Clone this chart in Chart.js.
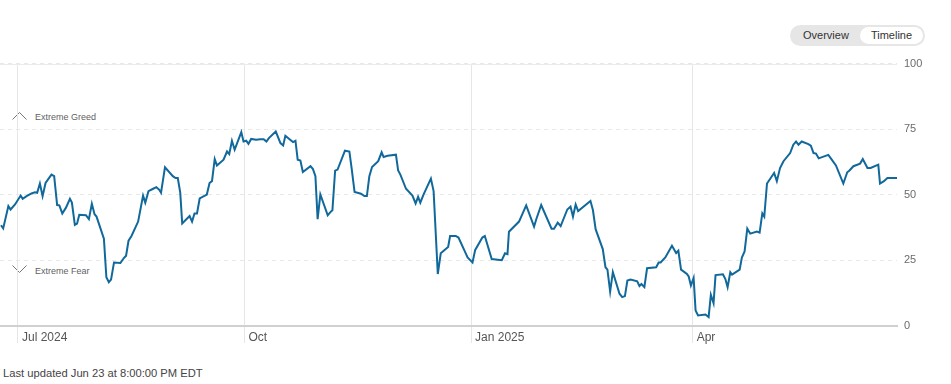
<!DOCTYPE html>
<html lang="en">
<head>
    <meta charset="UTF-8">
    <title>Fear &amp; Greed Timeline</title>
    <script src="https://cdn.jsdelivr.net/npm/chart.js"></script>
    <style>
        body {
            margin: 0;
            font-family: Arial, "Liberation Sans", sans-serif;
            background: #fff;
            width: 951px;
            height: 384px;
            position: relative;
            overflow: hidden;
        }
        .toggle {
            position: absolute;
            left: 790px;
            top: 25px;
            width: 135px;
            height: 21px;
            border-radius: 11px;
            background: #e6e6e6;
            font-size: 11px;
            color: #333;
        }
        .toggle span {
            position: absolute;
            top: 0;
            line-height: 21px;
        }
        .toggle .on {
            left: 70px;
            top: 2px;
            width: 63px;
            height: 17px;
            line-height: 17px;
            text-align: center;
            background: #fff;
            border-radius: 9px;
        }
        .zone {
            position: absolute;
            left: 12px;
            font-size: 9px;
            color: #5f5f5f;
        }
        .zone svg {
            position: absolute;
            left: 0;
        }
        .zone span {
            position: absolute;
            left: 23px;
            white-space: nowrap;
        }
        .chart-box {
            position: absolute;
            left: 0;
            top: 50px;
            width: 951px;
            height: 306px;
        }
        .footer {
            position: absolute;
            left: 3px;
            top: 367px;
            font-size: 11.2px;
            color: #444;
        }
    </style>
</head>
<body>
    <div class="toggle">
        <span style="left:13px">Overview</span>
        <span class="on">Timeline</span>
    </div>

    <div class="zone" style="top:111px">
        <svg width="15" height="10"><polyline points="0.5,8.5 7.5,1.5 14.5,8.5" fill="none" stroke="#777" stroke-width="1"/></svg>
        <span style="top:1px">Extreme Greed</span>
    </div>
    <div class="zone" style="top:264px">
        <svg width="15" height="10"><polyline points="0.5,1.5 7.5,8.5 14.5,1.5" fill="none" stroke="#777" stroke-width="1"/></svg>
        <span style="top:2px">Extreme Fear</span>
    </div>

    <div class="chart-box">
        <canvas id="fgChart"></canvas>
    </div>

    <div class="footer">Last updated Jun 23 at 8:00:00 PM EDT</div>

    <script>
        // days counted from Jul 1, 2024
        const days = [
            -6.9, -6.0, -3.9, -3.0, -1.2, 1.1, 1.9, 3.5, 5.5, 6.9,
            7.8, 8.9, 10.0, 11.2, 13.6, 14.7, 15.9, 16.8, 18.0, 19.5,
            21.1, 21.9, 23.1, 24.0, 24.9, 27.6, 28.8, 30.0, 31.1, 31.9,
            34.9, 35.9, 36.9, 37.8, 39.0, 41.6, 43.0, 43.9, 44.9, 46.1,
            48.8, 50.8, 51.7, 53.0, 54.9, 56.2, 57.3, 58.1, 59.7, 62.9,
            64.0, 64.9, 65.9, 66.7, 69.7, 70.7, 71.7, 72.7, 73.8, 76.7,
            77.8, 78.8, 79.9, 80.8, 83.5, 84.9, 85.8, 86.9, 88.0, 90.7,
            91.6, 92.7, 93.6, 94.7, 96.7, 98.5, 99.8, 100.9, 101.9, 104.7,
            106.6, 107.7, 108.6, 110.9, 111.7, 112.7, 113.6, 114.7, 115.7, 118.8,
            119.8, 120.8, 121.7, 122.8, 125.8, 126.9, 127.7, 128.8, 129.8, 132.8,
            134.6, 135.5, 136.7, 139.3, 140.7, 141.7, 142.7, 143.8, 146.3, 147.7,
            148.5, 150.1, 153.5, 154.4, 155.3, 157.6, 160.2, 161.5, 162.5, 163.4,
            164.7, 167.7, 168.8, 170.5, 171.7, 174.7, 175.5, 177.8, 178.9, 181.2,
            182.6, 184.6, 185.7, 188.6, 189.6, 192.4, 196.5, 197.8, 198.8, 199.4,
            203.5, 206.4, 209.6, 210.5, 212.5, 216.7, 217.7, 219.2, 220.4, 223.1,
            224.4, 225.4, 226.5, 227.5, 232.5, 233.5, 234.6, 237.5, 238.6, 239.4,
            240.5, 241.6, 244.3, 245.4, 246.5, 247.5, 248.8, 251.5, 252.4, 253.2,
            254.4, 255.5, 259.2, 260.2, 261.0, 262.9, 265.6, 267.3, 268.2, 269.3,
            271.7, 272.4, 273.3, 274.4, 275.2, 276.2, 279.2, 280.5, 281.4, 282.5,
            283.3, 286.3, 287.3, 288.2, 289.3, 290.0, 293.1, 294.0, 295.1, 296.2,
            297.4, 300.1, 301.2, 302.3, 303.1, 304.2, 307.1, 308.2, 309.5, 310.9,
            313.6, 314.9, 316.0, 317.0, 318.3, 321.0, 322.0, 323.1, 324.1, 325.2,
            329.1, 330.5, 332.2, 335.2, 336.8, 337.6, 339.3, 342.0, 343.1, 345.0,
            346.3, 349.4, 350.1, 351.7, 353.1, 357.0
        ];
        const scores = [
            38.4, 37.2, 45.7, 44.4, 46.3, 49.7, 48.5, 49.5, 50.5, 51.0,
            50.8, 54.3, 49.5, 54.5, 57.7, 57.1, 46.1, 46.0, 42.9, 45.1,
            48.5, 47.0, 38.5, 39.0, 42.4, 42.2, 40.7, 46.6, 42.6, 41.7,
            33.3, 18.6, 16.7, 17.7, 24.2, 24.0, 25.9, 26.8, 32.5, 34.3,
            39.8, 49.7, 47.0, 51.4, 52.3, 52.9, 52.0, 50.8, 60.5, 57.1,
            56.4, 56.4, 50.8, 39.1, 41.9, 39.8, 42.9, 42.9, 48.6, 50.1,
            54.5, 55.2, 63.6, 61.2, 63.4, 66.5, 65.5, 70.6, 67.2, 73.9,
            70.3, 70.6, 69.4, 71.3, 71.0, 71.2, 71.2, 70.3, 71.6, 74.1,
            69.7, 68.8, 72.5, 70.7, 70.1, 70.6, 63.4, 63.1, 58.7, 60.9,
            59.8, 57.1, 40.7, 50.1, 42.2, 43.4, 44.1, 59.2, 59.6, 66.8,
            66.5, 60.2, 51.1, 50.4, 49.5, 49.5, 57.1, 60.6, 62.8, 66.2,
            64.4, 64.9, 65.3, 59.3, 57.7, 52.3, 49.7, 46.7, 49.2, 47.0,
            50.1, 56.2, 51.4, 19.8, 27.7, 30.1, 34.3, 34.3, 33.7, 29.0,
            26.1, 24.2, 29.0, 33.7, 34.3, 25.5, 25.1, 27.7, 27.4, 35.9,
            39.8, 46.0, 37.9, 40.7, 46.1, 37.1, 37.1, 39.4, 38.1, 44.4,
            45.5, 41.7, 46.3, 43.8, 47.6, 44.2, 36.9, 29.3, 22.4, 21.5,
            13.1, 20.5, 12.3, 11.0, 11.4, 17.3, 17.7, 17.0, 15.2, 16.0,
            14.8, 22.0, 22.4, 24.2, 24.2, 26.1, 30.6, 27.8, 28.7, 21.5,
            19.8, 18.9, 15.4, 18.3, 5.9, 4.0, 4.4, 3.4, 11.9, 8.7,
            19.4, 19.7, 17.9, 14.8, 20.5, 19.6, 21.5, 26.1, 28.4, 37.1,
            35.2, 36.0, 35.6, 42.9, 41.7, 54.3, 58.3, 55.2, 60.2, 62.8,
            65.9, 69.1, 70.3, 69.1, 70.3, 69.3, 68.7, 65.9, 65.7, 63.9,
            65.2, 63.4, 61.2, 54.3, 58.6, 59.2, 60.9, 61.9, 63.6, 60.2,
            60.2, 61.5, 54.3, 55.2, 56.4, 56.4
        ];

        const tickDays = [0, 92, 184, 274];
        const tickLabels = ["Jul 2024", "Oct", "Jan 2025", "Apr"];
        const yTicks = [0, 25, 50, 75, 100];

        const points = days.map((d, i) => ({ x: d, y: scores[i] }));

        // solid line at the top (100) instead of the dashed grid
        const topLine = {
            id: "topLine",
            beforeDatasetsDraw(chart) {
                const { ctx, chartArea, scales } = chart;
                const y = Math.round(scales.y.getPixelForValue(100)) + 0.5;
                ctx.save();
                ctx.strokeStyle = "#ebebeb";
                ctx.lineWidth = 1;
                ctx.beginPath();
                ctx.moveTo(chartArea.left, y);
                ctx.lineTo(chartArea.right, y);
                ctx.stroke();
                ctx.restore();
            }
        };

        new Chart(document.getElementById("fgChart"), {
            type: "line",
            data: {
                datasets: [{
                    data: points,
                    borderColor: "#10689b",
                    borderWidth: 2,
                    pointRadius: 0,
                    tension: 0,
                    fill: false
                }]
            },
            options: {
                responsive: true,
                maintainAspectRatio: false,
                animation: false,
                layout: { padding: { top: 8, left: 0, right: 0, bottom: 0 } },
                plugins: {
                    legend: { display: false },
                    tooltip: { enabled: false }
                },
                scales: {
                    x: {
                        type: "linear",
                        min: -7.3,
                        max: 357,
                        afterFit: (scale) => { scale.height = 30; },
                        afterBuildTicks: (scale) => {
                            scale.ticks = tickDays.map(v => ({ value: v }));
                        },
                        grid: {
                            color: "#e6e6e6",
                            lineWidth: 1,
                            drawTicks: true,
                            tickLength: 17,
                            tickColor: "#e6e6e6"
                        },
                        border: { display: true, color: "#d0d0d0", width: 2 },
                        ticks: {
                            align: "start",
                            labelOffset: 4,
                            padding: -13,
                            maxRotation: 0,
                            autoSkip: false,
                            color: "#555",
                            font: { family: "Arial, 'Liberation Sans', sans-serif", size: 12 },
                            callback: (v) => tickLabels[tickDays.indexOf(v)]
                        }
                    },
                    y: {
                        position: "right",
                        min: 0,
                        max: 100,
                        afterFit: (scale) => { scale.width = 54; },
                        afterBuildTicks: (scale) => {
                            scale.ticks = yTicks.map(v => ({ value: v }));
                        },
                        grid: {
                            color: "#e8e8e8",
                            lineWidth: 1,
                            drawTicks: false
                        },
                        border: { display: false, dash: [4, 4] },
                        ticks: {
                            padding: 7,
                            color: "#6b6b6b",
                            font: { family: "Arial, 'Liberation Sans', sans-serif", size: 11 }
                        }
                    }
                }
            },
            plugins: [topLine]
        });
    </script>
</body>
</html>
